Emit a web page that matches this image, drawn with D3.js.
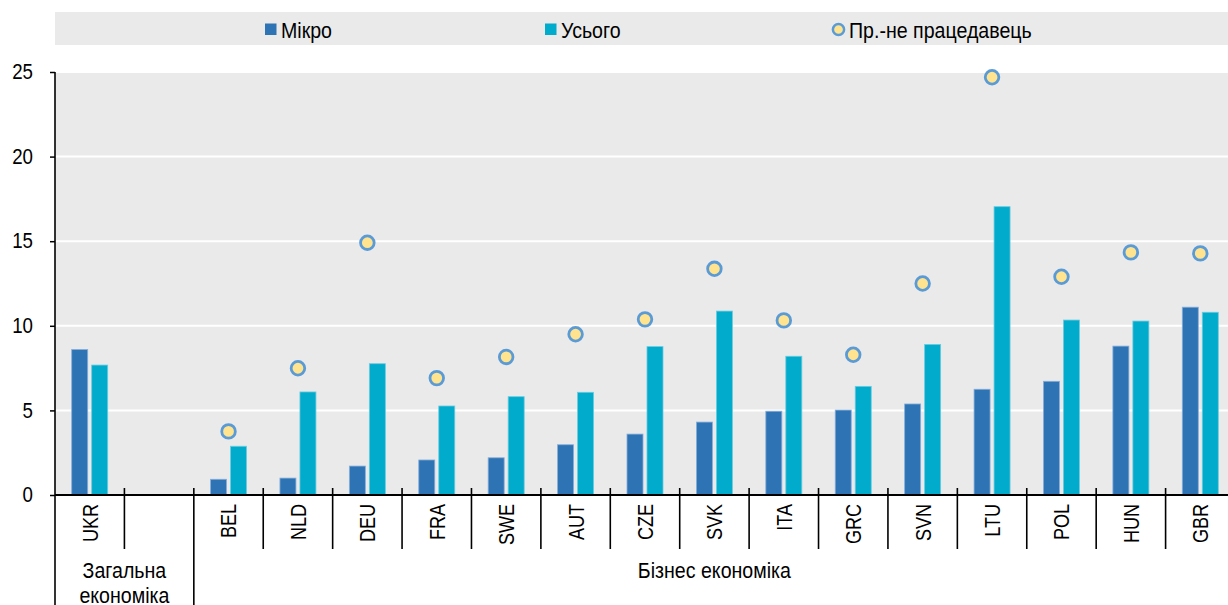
<!DOCTYPE html>
<html>
<head>
<meta charset="utf-8">
<script src="https://cdn.jsdelivr.net/npm/d3@7"></script>
<style>
  html, body { margin: 0; padding: 0; background: #fff; }
  svg { display: block; }
  text { font-family: "Liberation Sans", Arial, sans-serif; fill: #000; }
</style>
</head>
<body>
<svg id="chart" width="1228" height="605"></svg>
<script>
// ---- data ----
const categories = ["UKR", "", "BEL", "NLD", "DEU", "FRA", "SWE", "AUT", "CZE", "SVK", "ITA", "GRC", "SVN", "LTU", "POL", "HUN", "GBR"];
const micro      = [8.6, null, 0.93, 1.0, 1.71, 2.07, 2.2, 2.97, 3.6, 4.31, 4.95, 5.02, 5.38, 6.25, 6.72, 8.8, 11.1];
const total      = [7.68, null, 2.88, 6.09, 7.76, 5.26, 5.81, 6.07, 8.77, 10.87, 8.2, 6.42, 8.9, 17.04, 10.34, 10.28, 10.8];
const nonEmployer = [null, null, 3.76, 7.49, 14.91, 6.91, 8.16, 9.5, 10.38, 13.37, 10.32, 8.29, 12.5, 24.69, 12.9, 14.34, 14.28];
const seriesNames = ["Мікро", "Усього", "Пр.-не працедавець"];
const yTicks = [0, 5, 10, 15, 20, 25];
const groupLabels = [["Загальна", "економіка"], ["Бізнес економіка"]];
const groupStart = [0, 2];
const groupEnd = [2, 17];

// ---- layout ----
const W = 1228, H = 605;
const pL = 55, pR = 1235, pT = 72, pB = 495;
const colMicro = "#2E74B5", colTotal = "#00ABCC";
const dotFill = "#FFE38E", dotStroke = "#5B9BD5";

const svg = d3.select("#chart");

const x = d3.scaleBand().domain(categories).range([pL, pR]).paddingInner(0).paddingOuter(0);
const x1 = d3.scaleBand().domain(["micro", "total"]).range([-18, 18]).paddingInner(0.2);
const y = d3.scaleLinear().domain([0, 25]).range([pB, pT]);

// legend band
svg.append("rect").attr("x", 55).attr("y", 12).attr("width", W - 55).attr("height", 33).attr("fill", "#eaeaea");
const lg = svg.append("g").attr("font-size", 22).attr("data-narrow", 0.89);
const legX = [265, 545, 832];
lg.append("rect").attr("x", legX[0]).attr("y", 23.5).attr("width", 11.5).attr("height", 11.5).attr("fill", colMicro);
lg.append("text").attr("x", legX[0] + 16).attr("y", 38).text(seriesNames[0]);
lg.append("rect").attr("x", legX[1]).attr("y", 23.5).attr("width", 11.5).attr("height", 11.5).attr("fill", colTotal);
lg.append("text").attr("x", legX[1] + 16).attr("y", 38).text(seriesNames[1]);
lg.append("circle").attr("cx", legX[2] + 6.5).attr("cy", 29.5).attr("r", 5.6).attr("fill", dotFill).attr("stroke", dotStroke).attr("stroke-width", 2.5);
lg.append("text").attr("x", legX[2] + 17).attr("y", 38).text(seriesNames[2]);

// plot background
svg.append("rect").attr("x", pL).attr("y", pT).attr("width", pR - pL).attr("height", pB - pT).attr("fill", "#eaeaea");

// gridlines
svg.append("g").selectAll("line").data(yTicks.filter(d => d > 0)).join("line")
  .attr("x1", pL).attr("x2", pR)
  .attr("y1", d => y(d)).attr("y2", d => y(d))
  .attr("stroke", "#fff").attr("stroke-width", 2);

// bars
const idx = d3.range(categories.length);
svg.append("g").selectAll("rect").data(idx.filter(i => micro[i] != null)).join("rect")
  .attr("x", i => x(categories[i]) + x.bandwidth() / 2 + x1("micro"))
  .attr("width", x1.bandwidth())
  .attr("y", i => y(micro[i]))
  .attr("height", i => y(0) - y(micro[i]))
  .attr("fill", colMicro).attr("stroke", "#86AEDB").attr("stroke-width", 0.8);
svg.append("g").selectAll("rect").data(idx.filter(i => total[i] != null)).join("rect")
  .attr("x", i => x(categories[i]) + x.bandwidth() / 2 + x1("total"))
  .attr("width", x1.bandwidth())
  .attr("y", i => y(total[i]))
  .attr("height", i => y(0) - y(total[i]))
  .attr("fill", colTotal).attr("stroke", "#6CCBE0").attr("stroke-width", 0.8);

// dots
svg.append("g").selectAll("circle").data(idx.filter(i => nonEmployer[i] != null)).join("circle")
  .attr("cx", i => x(categories[i]) + x.bandwidth() / 2)
  .attr("cy", i => y(nonEmployer[i]))
  .attr("r", 6.8)
  .attr("fill", dotFill).attr("stroke", dotStroke).attr("stroke-width", 2.8);

// y axis
const yAxis = d3.axisLeft(y).tickValues(yTicks).tickSize(5).tickPadding(17);
const ya = svg.append("g").attr("transform", `translate(${pL},0)`).attr("data-narrow", 0.85).call(yAxis);
ya.select(".domain").remove();
ya.selectAll(".tick line").attr("stroke", "#000").attr("stroke-width", 1.5);
ya.selectAll(".tick text").attr("font-size", 22).attr("font-family", null).attr("dy", "0.3em");
svg.append("line").attr("x1", pL).attr("x2", pL).attr("y1", pT).attr("y2", H)
  .attr("stroke", "#000").attr("stroke-width", 1.6);

// x axis line
svg.append("line").attr("x1", pL).attr("x2", pR).attr("y1", pB).attr("y2", pB)
  .attr("stroke", "#000").attr("stroke-width", 2);

// category separators
const bounds = d3.range(1, categories.length + 1);
svg.append("g").selectAll("line").data(bounds).join("line")
  .attr("x1", i => pL + i * x.step()).attr("x2", i => pL + i * x.step())
  .attr("y1", 488)
  .attr("y2", i => groupStart.includes(i) ? H : 549)
  .attr("stroke", "#000").attr("stroke-width", 1.6);

// category labels
svg.append("g").attr("data-narrow", 0.82).selectAll("text").data(idx.filter(i => categories[i] !== "")).join("text")
  .attr("transform", i => `translate(${x(categories[i]) + x.bandwidth() / 2},504) rotate(-90)`)
  .attr("text-anchor", "end")
  .attr("dy", "0.36em")
  .attr("font-size", 22)
  .text(i => categories[i]);

// group labels
const gl = svg.append("g").attr("data-narrow", 0.89);
groupLabels.forEach((lines, g) => {
  const cx = (pL + groupStart[g] * x.step() + pL + groupEnd[g] * x.step()) / 2;
  const t = gl.append("text").attr("x", cx).attr("y", 578).attr("text-anchor", "middle").attr("font-size", 22);
  lines.forEach((ln, k) => t.append("tspan").attr("x", cx).attr("dy", k === 0 ? 0 : 25).text(ln));
});

// condense text horizontally (Arial Narrow look)
svg.selectAll("text").each(function () {
  const holder = this.closest("[data-narrow]");
  const f = holder ? +holder.getAttribute("data-narrow") : 0.87;
  const tspans = this.querySelectorAll("tspan");
  const nodes = tspans.length ? Array.from(tspans) : [this];
  nodes.forEach(n => {
    const L = n.getComputedTextLength();
    if (L > 0) n.setAttribute("textLength", (L * f).toFixed(2));
    n.setAttribute("lengthAdjust", "spacingAndGlyphs");
  });
});
</script>
</body>
</html>
